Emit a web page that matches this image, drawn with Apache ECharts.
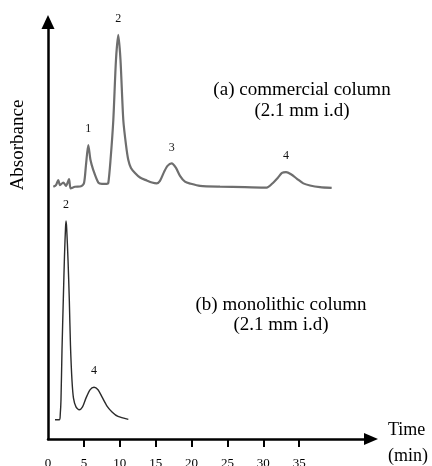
<!DOCTYPE html>
<html lang="en">
<head>
    <meta charset="UTF-8">
    <title>Chromatograms</title>
    <style>
        html, body { margin: 0; padding: 0; background: #fff; }
        #main { width: 432px; height: 466px; }
    </style>
</head>
<body>
    <div id="main"></div>
    <script src="https://cdn.jsdelivr.net/npm/echarts@6/dist/echarts.min.js"></script>
    <script>
        // (a) commercial column, time (min) / absorbance (arb.)
        var commTime = [0.74, 1.11, 1.43, 1.67, 2.13, 2.51, 2.93, 3.16, 3.76, 4.60, 5.02, 5.29, 5.61, 5.92, 6.31, 7.01, 7.52, 8.18,
            8.40, 8.71, 9.10, 9.47, 9.79, 10.10, 10.49, 10.87, 11.19, 11.56, 12.12, 12.82, 13.75, 14.49, 15.14, 15.60, 16.16,
            16.65, 17.23, 17.83, 18.39, 19.08, 19.92, 21.18, 23.96, 27.44, 30.47, 31.21, 32.05, 32.60, 33.16, 33.85, 34.69,
            35.57, 36.50, 37.89, 39.52];
        var commAbs = [60.5, 60.9, 62.1, 60.9, 61.5, 60.7, 62.3, 60.1, 60.5, 60.6, 61.4, 65.7, 70.5, 66.9, 64.5, 61.5, 61.2, 61.2,
            61.4, 66.9, 76.5, 90.9, 96.9, 90.9, 76.5, 70.5, 66.9, 65.0, 63.8, 62.7, 62.0, 61.5, 61.3, 61.9, 64.0,
            65.5, 66.1, 65.0, 63.1, 61.7, 61.2, 60.7, 60.5, 60.4, 60.3, 61.2, 62.7, 63.8, 64.0, 63.5, 62.4,
            61.3, 60.8, 60.4, 60.2];

        // (b) monolithic column
        var monoTime = [0.98, 1.60, 1.71, 1.81, 1.95, 2.13, 2.30, 2.44, 2.51, 2.60, 2.79, 2.97, 3.13, 3.34, 3.55, 3.90, 4.36,
            4.81, 5.29, 5.85, 6.41, 6.97, 7.52, 8.22, 8.92, 9.75, 11.19];
        var monoAbs = [4.6, 4.6, 6.0, 9.4, 21.3, 33.3, 44.1, 50.6, 52.3, 50.6, 42.9, 33.3, 22.5, 14.1, 9.8, 7.7, 7.0,
            7.7, 9.8, 11.8, 12.4, 11.8, 10.1, 7.9, 6.5, 5.4, 4.7];

        // peak numbers
        var commPeaks = ['1', '2', '3', '4'];
        var commPeakTimes = [5.61, 9.79, 17.23, 33.16];
        var monoPeaks = ['2', '4'];
        var monoPeakTimes = [2.51, 6.41];

        var xTicks = [5, 10, 15, 20, 25, 30, 35];
        var xLabels = [0, 5, 10, 15, 20, 25, 30, 35];

        var serif = '"Liberation Serif", "Times New Roman", serif';

        function pairs(t, a) {
            return t.map(function (v, i) { return [v, a[i]]; });
        }
        function peakMarks(names, times, t, a) {
            return names.map(function (n, i) {
                var k = t.indexOf(times[i]);
                return { name: n, value: n, coord: [t[k], a[k]] };
            });
        }

        var markStyle = {
            symbol: 'circle',
            symbolSize: 0,
            label: {
                show: true,
                position: 'top',
                distance: 10,
                formatter: '{b}',
                color: '#111',
                fontFamily: serif,
                fontSize: 12
            }
        };

        var option = {
            animation: false,
            backgroundColor: '#fff',
            grid: { left: 48, right: 61, top: 22, bottom: 27, outerBoundsMode: 'none', containLabel: false },
            xAxis: {
                type: 'value',
                min: 0,
                max: 45,
                axisLine: { lineStyle: { color: '#000', width: 2.5 }, symbol: ['none', 'triangle'], symbolSize: [12, 14] },
                axisTick: { show: true, length: 8, lineStyle: { width: 2, color: '#000' }, customValues: xTicks },
                axisLabel: { color: '#000', fontFamily: serif, fontSize: 13, margin: 18, customValues: xLabels },
                splitLine: { show: false }
            },
            yAxis: {
                type: 'value',
                min: 0,
                max: 100,
                axisLine: { show: true, onZero: false, lineStyle: { color: '#000', width: 2.5 }, symbol: ['none', 'triangle'], symbolSize: [13, 14] },
                axisTick: { show: false },
                axisLabel: { show: false },
                splitLine: { show: false }
            },
            series: [{
                name: 'commercial column',
                type: 'line',
                data: pairs(commTime, commAbs),
                showSymbol: false,
                smooth: 0.25,
                lineStyle: { color: '#6e6e6e', width: 2.2 },
                markPoint: Object.assign({ data: peakMarks(commPeaks, commPeakTimes, commTime, commAbs) }, markStyle)
            }, {
                name: 'monolithic column',
                type: 'line',
                data: pairs(monoTime, monoAbs),
                showSymbol: false,
                smooth: 0.25,
                lineStyle: { color: '#2b2b2b', width: 1.4 },
                markPoint: Object.assign({ data: peakMarks(monoPeaks, monoPeakTimes, monoTime, monoAbs) }, markStyle)
            }],
            graphic: [{
                type: 'text',
                x: 18, y: 145,
                rotation: Math.PI / 2,
                style: { text: 'Absorbance', fill: '#000', font: '19px ' + serif, align: 'center', verticalAlign: 'middle' }
            }, {
                type: 'text',
                x: 388, y: 443,
                style: { text: 'Time\n(min)', fill: '#000', font: '18px ' + serif, lineHeight: 26, align: 'left', verticalAlign: 'middle' }
            }, {
                type: 'text',
                x: 302, y: 101,
                style: { text: '(a) commercial column\n(2.1 mm i.d)', fill: '#000', font: '19px ' + serif, lineHeight: 21, align: 'center', verticalAlign: 'middle' }
            }, {
                type: 'text',
                x: 281, y: 315,
                style: { text: '(b) monolithic column\n(2.1 mm i.d)', fill: '#000', font: '19px ' + serif, lineHeight: 20, align: 'center', verticalAlign: 'middle' }
            }]
        };

        var myChart = echarts.init(document.getElementById('main'));
        myChart.setOption(option);
    </script>
</body>
</html>
